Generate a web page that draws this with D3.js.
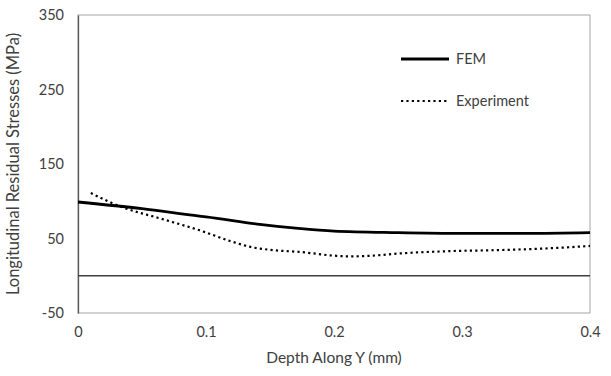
<!DOCTYPE html>
<html>
<head>
<meta charset="utf-8">
<script src="https://cdn.jsdelivr.net/npm/d3@7"></script>
<style>
    body { margin: 0; background: #fff; }
    svg text { font-family: Lato, "Open Sans", sans-serif; fill: #404040; }
</style>
</head>
<body>
<svg id="chart" width="611" height="376"></svg>
<script>
// Values
var femDepth = [0, 0.05, 0.095, 0.1, 0.142, 0.17, 0.2, 0.25, 0.3, 0.35, 0.4];
var femStress = [99, 90, 80, 79, 69, 64, 60, 58, 57, 57, 58];

var expDepth = [0.01, 0.033, 0.064, 0.095, 0.12, 0.134, 0.155, 0.173, 0.2, 0.2125, 0.23, 0.252, 0.29, 0.33, 0.37, 0.4];
var expStress = [111, 93, 77, 61, 46, 39, 34, 32, 27, 26, 27, 30, 33, 34.5, 37, 40];

var xTicks = [0, 0.1, 0.2, 0.3, 0.4];
var yTicks = [-50, 50, 150, 250, 350];

var seriesNames = ["FEM", "Experiment"];

window.addEventListener("load", function () {
    drawChart();
});

function drawChart() {
    var svg = d3.select("#chart"),
        margin = { top: 15, right: 21, bottom: 63, left: 78 },
        width = +svg.attr("width") - margin.left - margin.right,
        height = +svg.attr("height") - margin.top - margin.bottom;

    var x = d3.scaleLinear().domain([0, 0.4]).range([0, width]),
        y = d3.scaleLinear().domain([-50, 350]).range([height, 0]);

    var g = svg.append("g")
        .attr("transform", "translate(" + margin.left + "," + margin.top + ")");

    // plot frame
    g.append("rect")
        .attr("width", width)
        .attr("height", height)
        .attr("fill", "none")
        .attr("stroke", "#a6a6a6")
        .attr("stroke-width", 1);

    // y axis
    var yAxis = g.append("g")
        .call(d3.axisLeft(y).tickValues(yTicks).tickSize(0).tickPadding(14)
            .tickFormat(function (d) { return String(d); }));
    yAxis.select(".domain").attr("stroke", "#595959").attr("stroke-width", 1.3);
    yAxis.selectAll("text").style("font-size", "14.5px");

    // x axis (labels only, line is the frame bottom)
    var xAxis = g.append("g")
        .attr("transform", "translate(0," + height + ")")
        .call(d3.axisBottom(x).tickValues(xTicks).tickSize(0).tickPadding(14)
            .tickFormat(function (d) { return d === 0 ? "0" : d3.format(".1f")(d); }));
    xAxis.select(".domain").remove();
    xAxis.selectAll("text").style("font-size", "14.5px");

    // zero line
    g.append("line")
        .attr("x1", 0).attr("x2", width)
        .attr("y1", y(0)).attr("y2", y(0))
        .attr("stroke", "#404040")
        .attr("stroke-width", 1.3);

    var line = d3.line()
        .x(function (d) { return x(d[0]); })
        .y(function (d) { return y(d[1]); })
        .curve(d3.curveMonotoneX);

    var femData = d3.zip(femDepth, femStress);
    var expData = d3.zip(expDepth, expStress);

    g.append("path")
        .datum(femData)
        .attr("fill", "none")
        .attr("stroke", "#000")
        .attr("stroke-width", 2.8)
        .attr("d", line);

    g.append("path")
        .datum(expData)
        .attr("fill", "none")
        .attr("stroke", "#000")
        .attr("stroke-width", 2.2)
        .attr("stroke-dasharray", "2.2,3.2")
        .attr("d", line);

    // legend
    var legend = svg.append("g");
    var rows = [
        { name: seriesNames[0], y: 59, dash: null, w: 2.8 },
        { name: seriesNames[1], y: 101, dash: "2.2,3.2", w: 2.2 }
    ];
    rows.forEach(function (r) {
        legend.append("line")
            .attr("x1", 401).attr("x2", 449)
            .attr("y1", r.y).attr("y2", r.y)
            .attr("stroke", "#000")
            .attr("stroke-width", r.w)
            .attr("stroke-dasharray", r.dash);
        legend.append("text")
            .attr("x", 456).attr("y", r.y)
            .attr("dy", "0.35em")
            .style("font-size", "14.5px")
            .text(r.name);
    });

    // axis titles
    svg.append("text")
        .attr("x", margin.left + width / 2)
        .attr("y", 363)
        .attr("text-anchor", "middle")
        .style("font-size", "15.5px")
        .text("Depth Along Y (mm)");

    svg.append("text")
        .attr("transform", "translate(19," + (margin.top + height / 2) + ") rotate(-90)")
        .attr("text-anchor", "middle")
        .style("font-size", "16.5px")
        .text("Longitudinal Residual Stresses (MPa)");
}
</script>
</body>
</html>
